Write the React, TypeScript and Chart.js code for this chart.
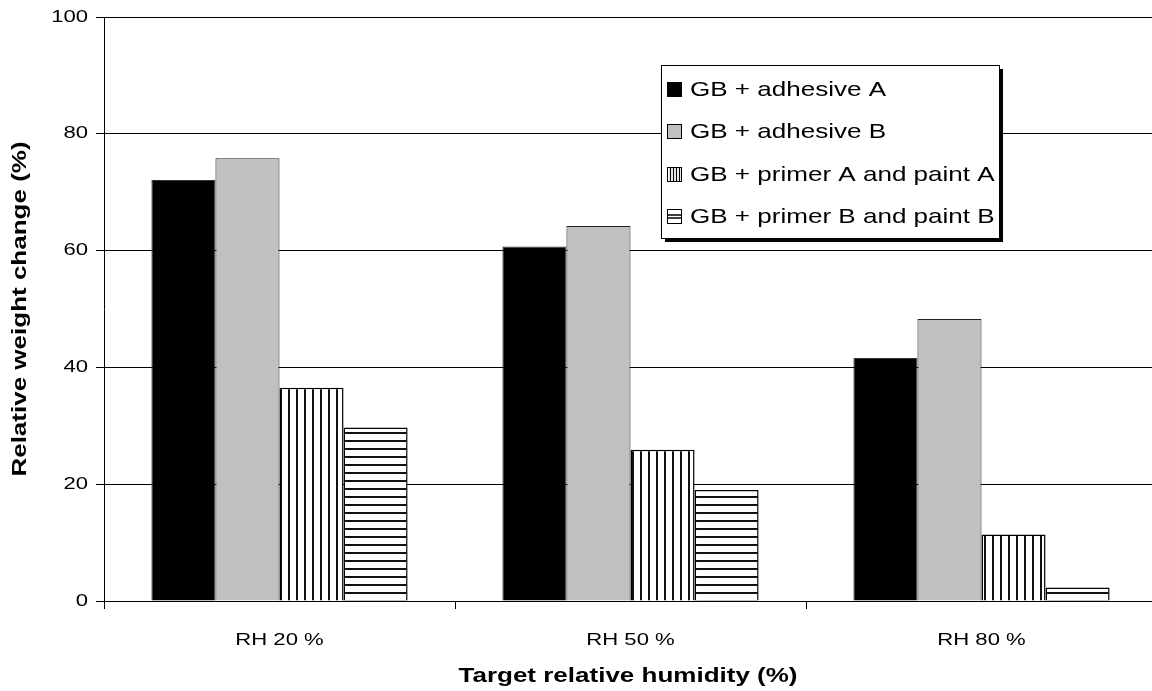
import React, { useEffect, useRef } from "react";
import { Chart, registerables } from "chart.js";

Chart.register(...registerables);

const categories = ["RH 20 %", "RH 50 %", "RH 80 %"];
const seriesLabels = [
  "GB + adhesive A",
  "GB + adhesive B",
  "GB + primer A and paint A",
  "GB + primer B and paint B",
];
const adhesiveA = [72.1, 60.7, 41.6];
const adhesiveB = [75.8, 64.2, 48.3];
const primerApaintA = [36.5, 25.9, 11.4];
const primerBpaintB = [29.7, 19.0, 2.3];
const yTickValues = [0, 20, 40, 60, 80, 100];
const xAxisTitle = "Target relative humidity (%)";
const yAxisTitle = "Relative weight change (%)";

const FONT = '"Liberation Sans", Arial, sans-serif';

function stripePattern(vertical: boolean, size = 8, lw = 2): CanvasPattern {
  const c = document.createElement("canvas");
  c.width = size;
  c.height = size;
  const g = c.getContext("2d")!;
  g.fillStyle = "#ffffff";
  g.fillRect(0, 0, size, size);
  g.fillStyle = "#111111";
  if (vertical) g.fillRect(0, 0, lw, size);
  else g.fillRect(0, 0, size, lw);
  return g.createPattern(c, "repeat")!;
}

function drawText(
  ctx: CanvasRenderingContext2D,
  text: string,
  x: number,
  y: number,
  font: string,
  align: CanvasTextAlign,
  sx: number,
  rot = 0
) {
  ctx.save();
  ctx.translate(x, y);
  if (rot) ctx.rotate(rot);
  ctx.scale(sx, 1);
  ctx.font = font;
  ctx.fillStyle = "#000";
  ctx.textAlign = align;
  ctx.textBaseline = "middle";
  ctx.fillText(text, 0, 0);
  ctx.restore();
}

const textPlugin = {
  id: "stretchedText",
  afterDraw(chart: any) {
    const ctx: CanvasRenderingContext2D = chart.ctx;
    const ca = chart.chartArea;
    const xs = chart.scales.x;
    const ys = chart.scales.y;
    categories.forEach((c, i) => {
      drawText(ctx, c, xs.getPixelForValue(i), ca.bottom + 39, `17px ${FONT}`, "center", 1.3);
    });
    yTickValues.forEach((v) => {
      drawText(ctx, String(v), ca.left - 16, ys.getPixelForValue(v), `17px ${FONT}`, "right", 1.3);
    });
    drawText(ctx, xAxisTitle, (ca.left + 1152) / 2, ca.bottom + 75, `bold 20px ${FONT}`, "center", 1.3);
    drawText(ctx, yAxisTitle, 20, (ca.top + ca.bottom) / 2, `bold 20px ${FONT}`, "center", 1.3, -Math.PI / 2);
  },
};

const legendPlugin = {
  id: "boxLegend",
  afterDraw(chart: any) {
    const ctx: CanvasRenderingContext2D = chart.ctx;
    const ca = chart.chartArea;
    const bx = ca.left + 557;
    const by = ca.top + 48;
    const bw = 338;
    const bh = 173;
    ctx.save();
    ctx.fillStyle = "#000";
    ctx.fillRect(bx + 4, by + 4, bw, bh);
    ctx.fillStyle = "#fff";
    ctx.fillRect(bx, by, bw, bh);
    ctx.strokeStyle = "#000";
    ctx.lineWidth = 1;
    ctx.strokeRect(bx + 0.5, by + 0.5, bw, bh);
    const rows = [24, 66, 109, 151];
    rows.forEach((dy, i) => {
      const cy = by + dy;
      const mx = bx + 6;
      const my = Math.round(cy - 7);
      const s = 15;
      if (i === 0) {
        ctx.fillStyle = "#000";
        ctx.fillRect(mx, my, s, s);
      } else if (i === 1) {
        ctx.fillStyle = "#c0c0c0";
        ctx.fillRect(mx, my, s, s);
        ctx.strokeStyle = "#000";
        ctx.strokeRect(mx + 0.5, my + 0.5, s - 1, s - 1);
      } else if (i === 2) {
        ctx.fillStyle = "#fff";
        ctx.fillRect(mx, my, s, s);
        ctx.strokeStyle = "#000";
        ctx.lineWidth = 1.2;
        for (let k = 3; k < s; k += 3) {
          ctx.beginPath();
          ctx.moveTo(mx + k + 0.5, my);
          ctx.lineTo(mx + k + 0.5, my + s);
          ctx.stroke();
        }
        ctx.lineWidth = 1;
        ctx.strokeRect(mx + 0.5, my + 0.5, s - 1, s - 1);
      } else {
        ctx.fillStyle = "#fff";
        ctx.fillRect(mx, my, s, s);
        ctx.strokeStyle = "#000";
        ctx.lineWidth = 1.5;
        [6, 9].forEach((k) => {
          ctx.beginPath();
          ctx.moveTo(mx, my + k);
          ctx.lineTo(mx + s, my + k);
          ctx.stroke();
        });
        ctx.lineWidth = 1;
        ctx.strokeRect(mx + 0.5, my + 0.5, s - 1, s - 1);
      }
      drawText(ctx, seriesLabels[i], bx + 29, cy + 1, `21px ${FONT}`, "left", 1.24);
    });
    ctx.restore();
  },
};

export default function App() {
  const ref = useRef<HTMLCanvasElement | null>(null);
  useEffect(() => {
    if (!ref.current) return;
    const chart = new Chart(ref.current, {
      type: "bar",
      data: {
        labels: categories,
        datasets: [
          { label: seriesLabels[0], data: adhesiveA, backgroundColor: "#000000", borderColor: "#333333", borderWidth: 1 },
          { label: seriesLabels[1], data: adhesiveB, backgroundColor: "#c0c0c0", borderColor: "#222222", borderWidth: 1 },
          { label: seriesLabels[2], data: primerApaintA, backgroundColor: stripePattern(true), borderColor: "#000000", borderWidth: 1.5 },
          { label: seriesLabels[3], data: primerBpaintB, backgroundColor: stripePattern(false), borderColor: "#000000", borderWidth: 1.5 },
        ],
      },
      options: {
        responsive: false,
        animation: false,
        layout: { padding: { top: 17, left: 0, right: 0, bottom: 0 } },
        datasets: { bar: { categoryPercentage: 0.73, barPercentage: 1.0 } },
        plugins: {
          legend: { display: false },
          tooltip: { enabled: false },
          title: { display: false },
        },
        scales: {
          x: {
            offset: true,
            grid: { display: true, drawOnChartArea: false, drawTicks: true, tickLength: 8, color: "#000", offset: true },
            border: { display: true, color: "#000", width: 1 },
            ticks: { display: false },
            afterFit: (s: any) => {
              s.height = 90;
            },
          },
          y: {
            min: 0,
            max: 100,
            ticks: { display: false, stepSize: 20 },
            grid: { color: "#000", tickLength: 8, drawTicks: true, lineWidth: 1 },
            border: { display: true, color: "#000", width: 1 },
            afterFit: (s: any) => {
              s.width = 104;
            },
          },
        },
      } as any,
      plugins: [textPlugin, legendPlugin],
    });
    return () => chart.destroy();
  }, []);
  return (
    <div style={{ position: "absolute", left: 0, top: 0, width: 1152, height: 691, overflow: "hidden", background: "#fff" }}>
      <canvas ref={ref} width={1157} height={691} style={{ display: "block" }} />
    </div>
  );
}
